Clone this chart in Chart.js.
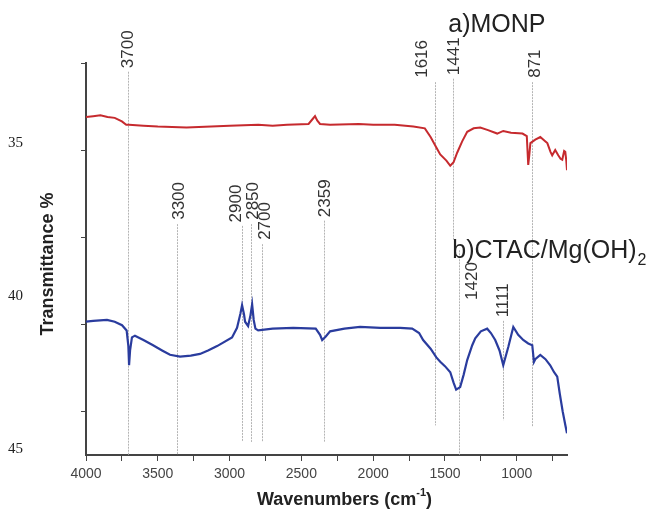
<!DOCTYPE html>
<html>
<head>
<meta charset="utf-8">
<script src="https://cdn.jsdelivr.net/npm/chart.js@4.4.1/dist/chart.umd.min.js"></script>
<style>
  html, body { margin: 0; padding: 0; background: #fff; }
  #wrap { width: 661px; height: 514px; }
</style>
</head>
<body>
<div id="wrap"><canvas id="ftirChart" width="661" height="514"></canvas></div>
<script>
// spectra: [wavenumber, transmittance in plot units]
const monpSpectrum = [
  [4000, 38.8], [3950, 38.9], [3900, 39.0], [3850, 38.8], [3800, 38.7], [3750, 38.3],
  [3720, 37.9], [3700, 37.9], [3600, 37.8], [3500, 37.7], [3300, 37.6], [3000, 37.8],
  [2800, 37.9], [2700, 37.8], [2600, 37.9], [2450, 38.0], [2420, 38.6], [2405, 38.9],
  [2390, 38.4], [2370, 38.0], [2300, 37.9], [2100, 38.0], [2000, 37.9], [1850, 37.9],
  [1720, 37.7], [1640, 37.5], [1600, 36.5], [1560, 35.3], [1533, 34.5], [1490, 33.8],
  [1463, 33.2], [1440, 33.6], [1415, 34.7], [1380, 36.0], [1345, 37.1], [1300, 37.5],
  [1254, 37.6], [1200, 37.3], [1136, 36.9], [1094, 37.2], [1040, 37.0], [960, 36.9],
  [930, 36.6], [920, 33.3], [912, 34.5], [905, 35.8], [871, 36.2], [836, 36.5],
  [800, 36.0], [787, 35.8], [765, 34.8], [753, 34.4], [732, 35.0], [711, 34.4],
  [695, 34.0], [683, 33.9], [670, 34.9], [662, 34.8], [655, 33.8], [650, 32.7]
];
const ctacSpectrum = [
  [4000, 15.3], [3950, 15.4], [3854, 15.5], [3800, 15.3], [3749, 14.9], [3717, 14.3],
  [3705, 12.5], [3700, 10.3], [3693, 12.0], [3680, 13.5], [3659, 13.7], [3600, 13.2],
  [3533, 12.6], [3470, 12.0], [3415, 11.5], [3345, 11.3], [3270, 11.4], [3206, 11.6],
  [3150, 12.0], [3087, 12.5], [2983, 13.5], [2948, 14.6], [2925, 16.2], [2913, 17.2],
  [2900, 16.2], [2892, 15.3], [2871, 14.8], [2855, 16.0], [2843, 17.3], [2832, 15.5],
  [2820, 14.5], [2801, 14.3], [2700, 14.5], [2557, 14.6], [2400, 14.5], [2370, 13.8],
  [2355, 13.2], [2330, 13.6], [2300, 14.2], [2200, 14.5], [2091, 14.7], [1950, 14.6],
  [1812, 14.6], [1728, 14.5], [1680, 14.0], [1652, 13.2], [1600, 12.2], [1560, 11.2],
  [1533, 10.7], [1500, 10.2], [1463, 9.5], [1440, 8.3], [1422, 7.5], [1394, 7.8],
  [1370, 9.2], [1345, 10.9], [1310, 12.6], [1289, 13.4], [1250, 14.2], [1206, 14.5],
  [1180, 14.0], [1150, 13.2], [1120, 12.0], [1094, 10.3], [1059, 12.4], [1024, 14.7],
  [990, 13.8], [955, 13.2], [920, 12.8], [892, 12.6], [880, 10.7], [871, 11.0],
  [836, 11.5], [800, 11.0], [767, 10.3], [740, 9.5], [718, 9.0], [700, 7.0],
  [680, 5.0], [660, 3.3], [650, 2.5]
];

const xTickValues = [4000, 3750, 3500, 3250, 3000, 2750, 2500, 2250, 2000, 1750, 1500, 1250, 1000, 750];
const yTickValues = [5, 15, 25, 35, 45];

// the "35 / 40 / 45" labels pasted beside the axis, and where they sit
const yOverlayLabels = ["35", "40", "45"];
const yOverlayAt = [35.8, 18.25, 0.7];

// peak markers
const peakLabels     = ["3700", "3300", "2900", "2850", "2700", "2359", "1616", "1441", "871", "1420", "1111"];
const peakLineAt     = [3707, 3366, 2913, 2850, 2774, 2341, 1568, 1443, 892, 1401, 1094];
const peakLabelAt    = [3707, 3352, 2955, 2836, 2753, 2334, 1659, 1436, 871, 1310, 1094];
const peakLabelBase  = [44.4, 27.0, 26.7, 27.0, 24.7, 27.3, 43.3, 43.6, 43.3, 17.8, 15.8];
const peakLineTop    = [44.0, 26.5, 26.3, 26.5, 24.2, 26.9, 42.8, 43.2, 42.8, 23.5, 15.4];
const peakLineBottom = [0, 0, 1.5, 1.5, 1.5, 1.5, 3.4, 24.7, 3.2, 0, 4.0];

const seriesNames = ["a)MONP", "b)CTAC/Mg(OH)"];
const seriesNameSub = ["", "2"];
const seriesNameAt = [[1477, 48.6], [1449, 22.6]];

const SANS = "'Liberation Sans', Arial, sans-serif";

const annotate = {
  id: "annotate",
  beforeDatasetsDraw(chart) {
    const { ctx, scales: { x, y } } = chart;
    ctx.save();
    ctx.strokeStyle = "#b4b4b4";
    ctx.lineWidth = 1;
    ctx.setLineDash([2, 1]);
    peakLineAt.forEach((w, i) => {
      const px = Math.round(x.getPixelForValue(w)) + 0.5;
      ctx.beginPath();
      ctx.moveTo(px, y.getPixelForValue(peakLineTop[i]));
      ctx.lineTo(px, y.getPixelForValue(peakLineBottom[i]));
      ctx.stroke();
    });
    ctx.restore();
  },
  afterDraw(chart) {
    const { ctx, scales: { x, y } } = chart;
    ctx.save();

    // peak labels, rotated
    ctx.fillStyle = "#333";
    ctx.font = "17px " + SANS;
    ctx.textAlign = "left";
    ctx.textBaseline = "middle";
    peakLabels.forEach((t, i) => {
      ctx.save();
      ctx.translate(x.getPixelForValue(peakLabelAt[i]), y.getPixelForValue(peakLabelBase[i]));
      ctx.rotate(-Math.PI / 2);
      ctx.fillText(t, 0, 0);
      ctx.restore();
    });

    // series names
    ctx.fillStyle = "#222";
    ctx.textBaseline = "alphabetic";
    seriesNames.forEach((t, i) => {
      const px = x.getPixelForValue(seriesNameAt[i][0]);
      const py = y.getPixelForValue(seriesNameAt[i][1]);
      ctx.font = "25px " + SANS;
      ctx.fillText(t, px, py);
      if (seriesNameSub[i]) {
        const w = ctx.measureText(t).width;
        ctx.font = "16px " + SANS;
        ctx.fillText(seriesNameSub[i], px + w + 1, py + 7);
      }
    });

    // overlay y labels
    ctx.fillStyle = "#222";
    ctx.font = "15px 'Liberation Serif', 'Times New Roman', serif";
    ctx.textBaseline = "middle";
    ctx.textAlign = "left";
    yOverlayLabels.forEach((t, i) => {
      ctx.fillText(t, 8, y.getPixelForValue(yOverlayAt[i]));
    });

    // y title
    ctx.save();
    ctx.font = "bold 18px " + SANS;
    ctx.textAlign = "center";
    ctx.translate(48, (y.top + y.bottom) / 2 + 5);
    ctx.rotate(-Math.PI / 2);
    ctx.fillText("Transmittance %", 0, 0);
    ctx.restore();

    // x title with superscript
    const main = "Wavenumbers (cm", sup = "-1", tail = ")";
    ctx.textAlign = "left";
    ctx.textBaseline = "alphabetic";
    ctx.font = "bold 18px " + SANS;
    const wMain = ctx.measureText(main).width;
    const wTail = ctx.measureText(tail).width;
    ctx.font = "bold 11px " + SANS;
    const wSup = ctx.measureText(sup).width;
    let tx = (x.left + x.right) / 2 + 18 - (wMain + wSup + wTail) / 2;
    const ty = 505;
    ctx.font = "bold 18px " + SANS;
    ctx.fillText(main, tx, ty);
    tx += wMain;
    ctx.font = "bold 11px " + SANS;
    ctx.fillText(sup, tx, ty - 9);
    tx += wSup;
    ctx.font = "bold 18px " + SANS;
    ctx.fillText(tail, tx, ty);

    ctx.restore();
  }
};

const toPoints = arr => arr.map(([w, v]) => ({ x: w, y: v }));

new Chart(document.getElementById("ftirChart").getContext("2d"), {
  type: "line",
  data: {
    datasets: [
      {
        label: "a)MONP",
        data: toPoints(monpSpectrum),
        borderColor: "#c62a2e",
        borderWidth: 2,
        pointRadius: 0,
        tension: 0
      },
      {
        label: "b)CTAC/Mg(OH)2",
        data: toPoints(ctacSpectrum),
        borderColor: "#2a3c9e",
        borderWidth: 2.2,
        pointRadius: 0,
        tension: 0
      }
    ]
  },
  options: {
    responsive: false,
    animation: false,
    layout: { padding: { top: 63, right: 94, left: 0, bottom: 0 } },
    plugins: { legend: { display: false }, tooltip: { enabled: false } },
    scales: {
      x: {
        type: "linear",
        reverse: true,
        min: 650,
        max: 4000,
        afterBuildTicks: s => { s.ticks = xTickValues.map(v => ({ value: v })); },
        afterFit: s => { s.height = 59; },
        grid: { drawOnChartArea: false, tickLength: 6, color: "#444" },
        border: { color: "#444", width: 2 },
        ticks: {
          autoSkip: false,
          maxRotation: 0,
          padding: 5,
          color: "#444",
          font: { family: SANS, size: 14 },
          callback: v => (v % 500 === 0 ? String(v) : "")
        }
      },
      y: {
        min: 0,
        max: 45,
        afterBuildTicks: s => { s.ticks = yTickValues.map(v => ({ value: v })); },
        afterFit: s => { s.width = 86; },
        grid: { drawOnChartArea: false, tickLength: 5, color: "#444" },
        border: { color: "#444", width: 2 },
        ticks: { display: false }
      }
    }
  },
  plugins: [annotate]
});
</script>
</body>
</html>
